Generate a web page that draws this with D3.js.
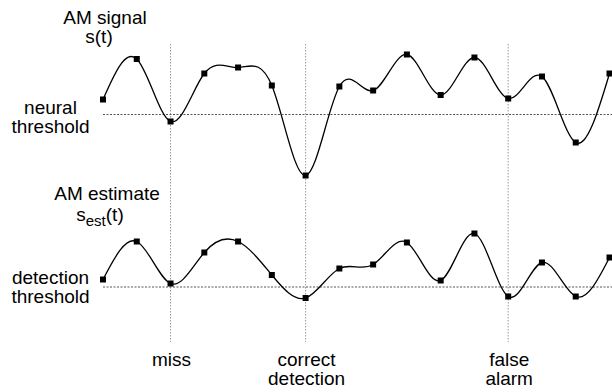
<!DOCTYPE html>
<html>
<head>
<meta charset="utf-8">
<script src="https://cdn.jsdelivr.net/npm/d3@7"></script>
<style>
  html, body { margin: 0; padding: 0; background: #fff; }
  text { font-family: "Liberation Sans", Arial, Helvetica, sans-serif; fill: #000; }
</style>
</head>
<body>
<svg id="chart"></svg>
<script>
// sample times (one marker per sample)
var samples = [0, 1, 2, 3, 4, 5, 6, 7, 8, 9, 10, 11, 12, 13, 14, 15];

// AM signal s(t), relative to the neural threshold (0)
var signal = [0.30, 1.11, -0.14, 0.82, 0.94, 0.58, -1.22, 0.56, 0.48, 1.20, 0.39, 1.14, 0.32, 0.76, -0.56, 0.82];

// AM estimate s_est(t), relative to the detection threshold (0)
var estimate = [0.15, 0.91, 0.07, 0.69, 0.91, 0.24, -0.22, 0.37, 0.45, 0.89, 0.13, 1.07, -0.19, 0.49, -0.19, 0.59];

// events marked with vertical lines
var eventSamples = [2, 6, 12];
var eventLabels = [["miss"], ["correct", "detection"], ["false", "alarm"]];

var width = 612, height = 392;

var svg = d3.select("#chart")
    .attr("width", width)
    .attr("height", height);

// shared time scale
var x = d3.scaleLinear()
    .domain([0, 15])
    .range([103, 609.5]);

// one y scale for each panel
var yTop = d3.scaleLinear()
    .domain([0, 1])
    .range([114.5, 64.5]);

var yBottom = d3.scaleLinear()
    .domain([0, 1])
    .range([287, 237]);

// vertical event lines
svg.append("g")
    .selectAll("line")
    .data(eventSamples)
    .join("line")
    .attr("x1", d => x(d))
    .attr("x2", d => x(d))
    .attr("y1", 44)
    .attr("y2", 342)
    .attr("stroke", "#999")
    .attr("stroke-width", 1)
    .attr("stroke-dasharray", "1.5,1.5");

// event labels
eventLabels.forEach(function(lines, i) {
    var t = svg.append("text")
        .attr("text-anchor", "middle")
        .attr("font-size", 19);
    lines.forEach(function(s, j) {
        t.append("tspan")
            .attr("x", x(eventSamples[i]) + 1)
            .attr("y", 366 + j * 19)
            .text(s);
    });
});

var drawPanel = function(values, y) {
    var g = svg.append("g");

    // threshold
    g.append("line")
        .attr("x1", x(0))
        .attr("x2", width)
        .attr("y1", y(0))
        .attr("y2", y(0))
        .attr("stroke", "#555")
        .attr("stroke-width", 1)
        .attr("stroke-dasharray", "2,1.5");

    // smooth curve through the samples
    g.append("path")
        .datum(samples)
        .attr("fill", "none")
        .attr("stroke", "#000")
        .attr("stroke-width", 1.3)
        .attr("d", d3.line()
            .x(d => x(d))
            .y(d => y(values[d]))
            .curve(d3.curveNatural));

    // sample markers
    g.selectAll("rect")
        .data(samples)
        .join("rect")
        .attr("x", d => x(d) - 3)
        .attr("y", d => y(values[d]) - 3)
        .attr("width", 6)
        .attr("height", 6)
        .attr("fill", "#000");
};

drawPanel(signal, yTop);
drawPanel(estimate, yBottom);

// panel titles
svg.append("text")
    .attr("x", 105).attr("y", 24)
    .attr("text-anchor", "middle").attr("font-size", 19)
    .text("AM signal");
svg.append("text")
    .attr("x", 99).attr("y", 43)
    .attr("text-anchor", "middle").attr("font-size", 19)
    .text("s(t)");

svg.append("text")
    .attr("x", 107).attr("y", 200)
    .attr("text-anchor", "middle").attr("font-size", 19)
    .text("AM estimate");
var est = svg.append("text")
    .attr("x", 100).attr("y", 221)
    .attr("text-anchor", "middle").attr("font-size", 19);
est.append("tspan").text("s");
est.append("tspan").attr("dy", 5).attr("font-size", 15).text("est");
est.append("tspan").attr("dy", -5).text("(t)");

// threshold labels
var leftLabel = function(lines, y0) {
    var t = svg.append("text")
        .attr("text-anchor", "middle")
        .attr("font-size", 19);
    lines.forEach(function(s, j) {
        t.append("tspan")
            .attr("x", 50.5)
            .attr("y", y0 + j * 19)
            .text(s);
    });
};
leftLabel(["neural", "threshold"], 114);
leftLabel(["detection", "threshold"], 284);
</script>
</body>
</html>
